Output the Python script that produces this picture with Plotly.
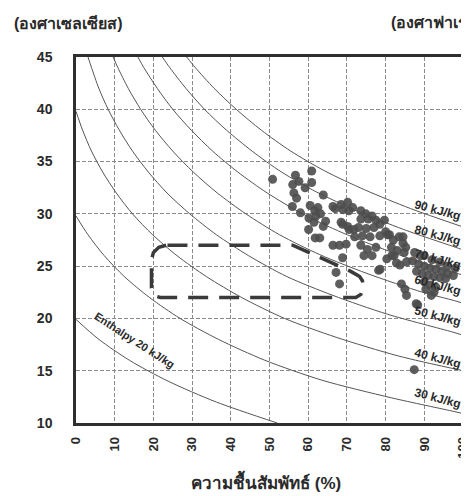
import plotly.graph_objects as go

# Enthalpy curves (relative humidity %, dry-bulb temperature degC)
h20_rh = [0, 5.9, 13.8, 23.8, 36.3, 52.0]
h20_t = [19.9, 18, 16, 14, 12, 10]
h30_rh = [0, 3.1, 7.3, 12.5, 19.0, 26.9, 36.8, 48.8, 63.5, 81.6, 97.7, 100]
h30_t = [29.8, 28, 26, 24, 22, 20, 18, 16, 14.1, 12.4, 11.1, 10.9]
h40_rh = [0, 1.7, 4.0, 6.9, 10.4, 14.6, 19.8, 26.1, 33.7, 42.8, 53.9, 67.2, 83.4, 100]
h40_t = [39.8, 38, 36, 34, 32, 30, 28, 26, 24, 22, 20, 18.2, 16.4, 15.0]
h50_rh = [3.1, 4.0, 5.9, 8.3, 11.2, 14.6, 18.7, 23.5, 29.4, 36.3, 44.6, 54.5, 66.4, 80.5, 97.3, 100]
h50_t = [45, 44, 42, 40, 38, 36, 34, 32, 30, 28, 26, 24, 22.2, 20.4, 18.7, 18.4]
h60_rh = [9.6, 10.8, 13.5, 16.7, 20.5, 25.0, 30.3, 36.5, 43.9, 52.6, 63.0, 75.2, 89.6, 97.8, 100]
h60_t = [45, 44, 42, 40, 38, 36, 34, 32, 30, 28, 26.1, 24.3, 22.5, 21.7, 21.45]
h70_rh = [16.0, 17.5, 21.0, 25.0, 29.8, 35.3, 41.8, 49.4, 58.3, 68.8, 81.1, 95.5, 100]
h70_t = [45, 44, 42, 40, 38, 36, 34, 32, 30.05, 28.2, 26.4, 24.6, 24.15]
h80_rh = [22.3, 24.2, 28.4, 33.2, 38.9, 45.5, 53.1, 62.1, 72.5, 84.7, 98.9, 100]
h80_t = [45, 44, 42, 40, 38, 36, 34, 32.1, 30.3, 28.5, 26.7, 26.55]
h90_rh = [28.6, 30.8, 35.7, 41.4, 47.9, 55.5, 64.3, 74.6, 86.5, 100]
h90_t = [45, 44, 42, 40, 38, 36, 34.1, 32.3, 30.5, 28.75]

curve_rh = [h20_rh, h30_rh, h40_rh, h50_rh, h60_rh, h70_rh, h80_rh, h90_rh]
curve_t = [h20_t, h30_t, h40_t, h50_t, h60_t, h70_t, h80_t, h90_t]

# curve labels
label_text = ["90 kJ/kg", "80 kJ/kg", "70 kJ/kg", "60 kJ/kg", "50 kJ/kg", "40 kJ/kg", "30 kJ/kg"]
label_rh = [93.3, 93.3, 93.3, 93.3, 93.3, 93.3, 93.3]
label_t = [30.4, 28.0, 25.7, 23.2, 20.2, 16.2, 12.4]
enthalpy20_label = "Enthalpy 20 kJ/kg"
enthalpy20_pos = (15.0, 17.9)

# comfort zone outline (dashed)
zone_rh = [23.3, 21.4, 20.0, 19.5, 19.5, 19.8, 20.65, 21.8, 72.3, 73.6, 74.3, 74.0, 73.3, 71.0, 56.0, 23.3]
zone_t = [27.0, 26.8, 26.3, 25.6, 22.9, 22.45, 22.12, 22.0, 22.0, 22.3, 23.0, 23.6, 24.0, 24.5, 27.0, 27.0]

# measured points
pts_rh = [50.8, 56.7, 57.6, 56.0, 60.9, 60.9, 59.2, 56.3, 57.0, 63.9, 55.9, 58.0,
          60.5, 61.7, 62.5, 63.2, 60.2, 61.5, 62.0, 60.1, 61.8, 63.0, 63.9, 64.5,
          66.4, 67.0, 68.5, 70.2, 69.0, 70.5, 71.5, 68.9, 70.6, 68.5, 70.2, 71.8,
          73.6, 74.9, 73.6, 75.5, 77.5, 79.7, 76.5, 78.5, 73.0, 75.0, 77.0, 80.0, 80.5,
          72.0, 74.0, 76.0, 78.5, 66.4, 68.1, 69.8, 68.9, 67.2, 68.1,
          73.6, 75.3, 74.4, 76.5, 77.5, 78.2, 78.6,
          81.0, 82.0, 83.5, 84.5, 81.5, 83.0, 84.8, 82.2, 80.3, 81.6, 83.7, 82.8, 85.4, 84.5, 85.2,
          84.1, 85.0, 85.4, 87.9, 88.3,
          87.0, 88.5, 90.0, 91.5, 93.0, 94.5, 96.0, 97.5, 88.0, 89.5, 91.0, 92.5, 94.0, 95.5,
          90.0, 92.0, 94.0, 96.0, 98.0, 87.5, 89.0,
          90.4, 91.5, 92.5, 90.0, 93.0, 91.8, 87.4]
pts_t = [33.3, 33.7, 33.1, 32.8, 34.1, 33.0, 32.5, 32.0, 31.5, 31.8, 30.7, 30.1,
         30.8, 30.3, 30.6, 30.0, 29.6, 29.2, 29.8, 28.5, 27.7, 27.7, 28.8, 29.3,
         30.7, 30.5, 30.9, 31.1, 30.4, 30.3, 30.6, 29.0, 28.5, 29.2, 28.8, 28.5,
         30.3, 30.0, 29.5, 29.5, 29.4, 29.4, 29.8, 29.0, 28.7, 28.6, 28.7, 28.3, 28.0,
         27.8, 27.9, 27.8, 27.9, 27.0, 27.0, 27.1, 25.8, 24.4, 23.3,
         27.0, 26.6, 26.0, 26.0, 26.8, 24.6, 24.7,
         28.0, 27.5, 27.8, 27.2, 26.8, 26.5, 26.3, 26.0, 25.7, 26.0, 25.1, 25.3, 25.4, 27.8, 26.8,
         23.3, 22.8, 22.2, 21.4, 21.3,
         25.5, 25.2, 25.0, 24.8, 24.7, 24.5, 24.3, 24.1, 24.5, 24.3, 24.1, 24.0, 23.9, 23.8,
         26.0, 25.6, 25.4, 25.0, 24.8, 26.3, 26.0,
         22.8, 23.2, 22.5, 23.5, 23.0, 22.2, 15.1]

x_ticks = list(range(0, 101, 10))
y_ticks = list(range(10, 46, 5))

y_title = "(องศาเซลเซียส)"
y2_title = "(องศาฟาเร"
x_title = "ความชื้นสัมพัทธ์ (%)"

FONT = "Arial, Liberation Sans, Noto Sans, sans-serif"
fig = go.Figure()

for rh, t in zip(curve_rh, curve_t):
    fig.add_trace(go.Scatter(x=rh, y=t, mode="lines", line=dict(color="#555555", width=1, shape="spline", smoothing=0.8),
                             hoverinfo="skip", showlegend=False))

fig.add_trace(go.Scatter(x=zone_rh, y=zone_t, mode="lines",
                         line=dict(color="#3a3a3a", width=3.5, dash="20px,11px"),
                         hoverinfo="skip", showlegend=False))

fig.add_trace(go.Scatter(x=pts_rh, y=pts_t, mode="markers",
                         marker=dict(color="#4d4d4d", size=9, opacity=0.9, line=dict(width=0)),
                         showlegend=False))

for txt, xr, yt in zip(label_text, label_rh, label_t):
    fig.add_annotation(x=xr, y=yt, text=txt, showarrow=False, textangle=15,
                       font=dict(family=FONT, size=12, color="#2a2a2a", weight="bold"))

fig.add_annotation(x=enthalpy20_pos[0], y=enthalpy20_pos[1], text=enthalpy20_label, showarrow=False,
                   textangle=33, font=dict(family=FONT, size=11, color="#2a2a2a", weight="bold"))

fig.add_annotation(xref="paper", yref="paper", x=-0.165, y=1.093, xanchor="left", yanchor="middle",
                   text=y_title, showarrow=False, font=dict(family=FONT, size=16, color="#2a2a2a", weight="bold"))
fig.add_annotation(xref="paper", yref="paper", x=1.015, y=1.093, xanchor="right", yanchor="middle",
                   text=y2_title, showarrow=False, font=dict(family=FONT, size=16, color="#2a2a2a", weight="bold"))
fig.add_annotation(xref="paper", yref="paper", x=0.49, y=-0.16, xanchor="center", yanchor="middle",
                   text=x_title, showarrow=False, font=dict(family=FONT, size=17, color="#2a2a2a", weight="bold"))

axis_common = dict(showline=True, mirror=True, linewidth=2.5, linecolor="#2f2f2f",
                   showgrid=True, gridcolor="#8a8a8a", gridwidth=1, griddash="4px,2px",
                   zeroline=False, ticks="")

fig.update_xaxes(range=[0, 100], tickvals=x_ticks, ticktext=[str(v) for v in x_ticks],
                 tickangle=-90, ticklabelstandoff=6,
                 tickfont=dict(family=FONT, size=13, color="#2a2a2a", weight="bold"), **axis_common)
fig.update_yaxes(range=[10, 45], tickvals=y_ticks, ticktext=[str(v) for v in y_ticks],
                 ticklabelstandoff=18,
                 tickfont=dict(family=FONT, size=14, color="#2a2a2a", weight="bold"), **axis_common)

fig.update_layout(width=469, height=496, margin=dict(l=68, r=7, t=49, b=81),
                  paper_bgcolor="white", plot_bgcolor="white", showlegend=False)

fig.write_html("out.html")
